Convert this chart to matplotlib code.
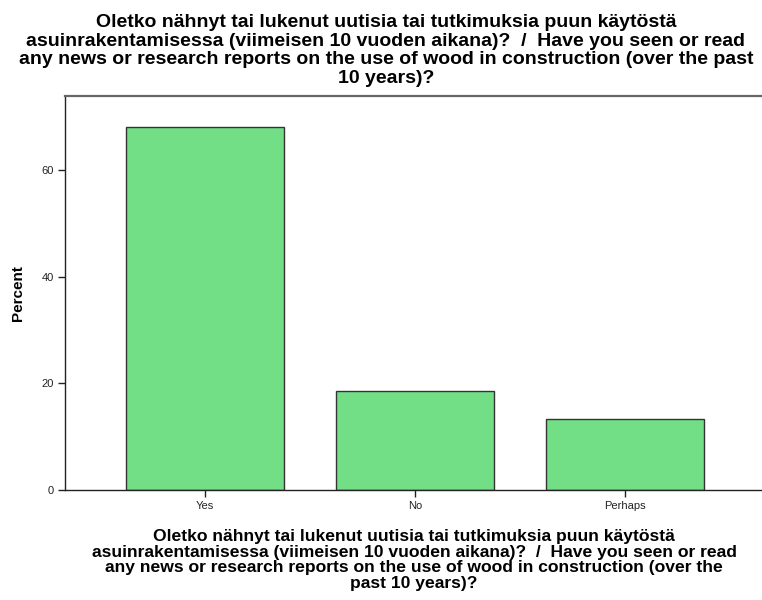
import matplotlib
matplotlib.use("Agg")
import matplotlib.pyplot as plt
import numpy as np

categories = ["Yes", "No", "Perhaps"]
percent = [68.1, 18.5, 13.4]
y_ticks = [0, 20, 40, 60]

title_text = ("Oletko nähnyt tai lukenut uutisia tai tutkimuksia puun käytöstä\n"
              "asuinrakentamisessa (viimeisen 10 vuoden aikana)?  /  Have you seen or read\n"
              "any news or research reports on the use of wood in construction (over the past\n"
              "10 years)?")
xlabel_text = ("Oletko nähnyt tai lukenut uutisia tai tutkimuksia puun käytöstä\n"
               "asuinrakentamisessa (viimeisen 10 vuoden aikana)?  /  Have you seen or read\n"
               "any news or research reports on the use of wood in construction (over the\n"
               "past 10 years)?")

W, H = 762, 600
fig = plt.figure(figsize=(W / 100, H / 100), dpi=100)
ax = fig.add_axes([65 / W, 110 / H, 700 / W, 394 / H])

x = np.arange(len(categories))
ax.bar(x, percent, width=0.75, color="#72de85", edgecolor="#333333", linewidth=1.0)

ax.set_xlim(-0.667, 2.667)
ax.set_ylim(0, 73.9)
ax.set_xticks(x)
ax.set_xticklabels(categories, fontsize=8, family="Liberation Sans", color="#222222")
ax.set_yticks(y_ticks)
ax.set_yticklabels([str(v) for v in y_ticks], fontsize=8, family="Liberation Sans",
                   color="#222222")
ax.tick_params(axis="both", direction="out", length=5, width=1, color="#222222", pad=3)

for side in ["left", "bottom"]:
    ax.spines[side].set_color("#222222")
    ax.spines[side].set_linewidth(1.0)
ax.spines["right"].set_visible(False)
ax.spines["top"].set_color("#666666")
ax.spines["top"].set_linewidth(1.6)

ax.set_ylabel("Percent", fontsize=11, fontweight="bold", family="Liberation Sans",
              labelpad=12)

fig.text(386 / W, 1 - 14 / H, title_text, ha="center", va="top", fontsize=14,
         fontweight="bold", family="Liberation Sans", linespacing=1.12)
fig.text(414 / W, 1 - 529 / H, xlabel_text, ha="center", va="top", fontsize=12.6,
         fontweight="bold", family="Liberation Sans", linespacing=1.06)

fig.savefig("out.png", dpi=100)
